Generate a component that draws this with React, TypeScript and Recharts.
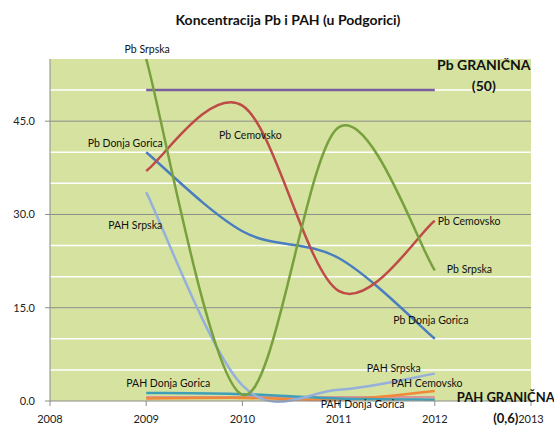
import React from "react";
import {
  LineChart,
  Line,
  XAxis,
  YAxis,
  CartesianGrid,
  ReferenceLine,
} from "recharts";

const years = [2009, 2010, 2011, 2012];
const pbSrpska = [55, 1, 44, 21];
const pbCemovsko = [37, 47.5, 17.7, 29];
const pbDonjaGorica = [40, 27.3, 23, 10];
const pahSrpska = [33.6, 2.5, 1.8, 4.4];
const pahDonjaGorica = [1.3, 1.1, 0.4, 0.2];
const pahCemovsko = [0.4, 0.5, 0.2, 1.6];
const pbGranicna = [50, 50, 50, 50];
const pahGranicna = [0.6, 0.6, 0.6, 0.6];

const xTicks = [2008, 2009, 2010, 2011, 2012, 2013];
const yTicks = [0, 15, 30, 45];
const minorGrid = [5, 10, 20, 25, 35, 40, 50];

const data = years.map((year, i) => ({
  year,
  pbSrpska: pbSrpska[i],
  pbCemovsko: pbCemovsko[i],
  pbDonjaGorica: pbDonjaGorica[i],
  pahSrpska: pahSrpska[i],
  pahDonjaGorica: pahDonjaGorica[i],
  pahCemovsko: pahCemovsko[i],
  pbGranicna: pbGranicna[i],
  pahGranicna: pahGranicna[i],
}));

// Excel-style smoothed line (Catmull-Rom through the points)
const excelSmooth = (context: any) => {
  let pts: number[][] = [];
  return {
    areaStart() {},
    areaEnd() {},
    lineStart() {
      pts = [];
    },
    point(x: number, y: number) {
      pts.push([+x, +y]);
    },
    lineEnd() {
      const n = pts.length;
      if (!n) return;
      context.moveTo(pts[0][0], pts[0][1]);
      for (let i = 0; i < n - 1; i++) {
        const p0 = pts[Math.max(i - 1, 0)];
        const p1 = pts[i];
        const p2 = pts[i + 1];
        const p3 = pts[Math.min(i + 2, n - 1)];
        context.bezierCurveTo(
          p1[0] + (p2[0] - p0[0]) / 6,
          p1[1] + (p2[1] - p0[1]) / 6,
          p2[0] - (p3[0] - p1[0]) / 6,
          p2[1] - (p3[1] - p1[1]) / 6,
          p2[0],
          p2[1]
        );
      }
    },
  };
};

type LabelSpec = {
  index: number;
  lines: string[];
  dx: number;
  dy: number;
  anchor?: "start" | "middle" | "end";
  size?: number;
};

const labels: Record<string, LabelSpec[]> = {
  pbSrpska: [
    { index: 0, lines: ["Pb Srpska"], dx: 1, dy: -6 },
    { index: 3, lines: ["Pb Srpska"], dx: 12, dy: 3, anchor: "start" },
  ],
  pbCemovsko: [
    { index: 1, lines: ["Pb Cemovsko"], dx: 8, dy: 33 },
    { index: 3, lines: ["Pb Cemovsko"], dx: 3, dy: 4, anchor: "start" },
  ],
  pbDonjaGorica: [
    { index: 0, lines: ["Pb Donja Gorica"], dx: -21, dy: -5 },
    { index: 3, lines: ["Pb Donja Gorica"], dx: -4, dy: -15 },
  ],
  pahSrpska: [
    { index: 0, lines: ["PAH Srpska"], dx: -11, dy: 37 },
    { index: 3, lines: ["PAH Srpska"], dx: -41, dy: -2 },
  ],
  pahCemovsko: [{ index: 3, lines: ["PAH Cemovsko"], dx: -8, dy: -4 }],
  pahDonjaGorica: [
    { index: 0, lines: ["PAH Donja Gorica"], dx: 22, dy: -6 },
    { index: 2, lines: ["PAH Donja Gorica"], dx: 24, dy: 9 },
  ],
  pbGranicna: [
    { index: 3, lines: ["Pb GRANIČNA", "(50)"], dx: 49, dy: -20, size: 14 },
  ],
  pahGranicna: [
    { index: 3, lines: ["PAH GRANIČNA", "(0,6)"], dx: 71, dy: 5, size: 13 },
  ],
};

const font = "Lato, 'Open Sans', sans-serif";

const makeLabel = (key: string) => (props: any) => {
  const spec = (labels[key] || []).find((s) => s.index === props.index);
  if (!spec) return <g key={`${key}-${props.index}`} />;
  return (
    <g key={`${key}-${props.index}`}>
      {spec.lines.map((line, i) => (
        <text
          key={i}
          x={props.x + spec.dx}
          y={props.y + spec.dy + i * 21}
          textAnchor={spec.anchor || "middle"}
          fontFamily={font}
          fontSize={spec.size || 10.5}
          fontWeight={spec.size ? 700 : 400}
          fill="#111"
        >
          {line}
        </text>
      ))}
    </g>
  );
};

const series = [
  { key: "pbGranicna", color: "#7A5FA0" },
  { key: "pahGranicna", color: "#D99694" },
  { key: "pahCemovsko", color: "#F0883A" },
  { key: "pahDonjaGorica", color: "#3F9FB8" },
  { key: "pahSrpska", color: "#95B0DA" },
  { key: "pbDonjaGorica", color: "#4A7DBF" },
  { key: "pbCemovsko", color: "#BE4B48" },
  { key: "pbSrpska", color: "#78A03E" },
];

export default function App() {
  return (
    <div
      style={{
        position: "absolute",
        left: 0,
        top: 0,
        width: 554,
        height: 427,
        background: "#fff",
        fontFamily: font,
      }}
    >
      <div
        style={{
          position: "absolute",
          left: 0,
          top: 11,
          width: 576,
          textAlign: "center",
          fontSize: 14,
          fontWeight: 700,
          color: "#111",
        }}
      >
        Koncentracija Pb i PAH (u Podgorici)
      </div>
      <LineChart
        width={554}
        height={427}
        data={data}
        margin={{ top: 59, right: 23, bottom: 0, left: 0 }}
      >
        <CartesianGrid
          fill="#D6E3A0"
          horizontal={false}
          vertical={false}
          stroke="none"
        />
        {minorGrid.map((v) => (
          <ReferenceLine key={v} y={v} stroke="#FFFFFF" strokeWidth={1.5} />
        ))}
        {yTicks
          .filter((v) => v > 0)
          .map((v) => (
            <ReferenceLine key={v} y={v} stroke="#8C8C8C" strokeWidth={1} />
          ))}
        <XAxis
          dataKey="year"
          type="number"
          domain={[2008, 2013]}
          ticks={xTicks}
          height={26}
          tickSize={5}
          tickMargin={9}
          axisLine={{ stroke: "#8C8C8C" }}
          tickLine={{ stroke: "#8C8C8C" }}
          tick={{ fontSize: 11, fill: "#222", fontFamily: font }}
        />
        <YAxis
          type="number"
          domain={[0, 55]}
          ticks={yTicks}
          width={50}
          tickSize={5}
          tickMargin={10}
          tickFormatter={(v: number) => v.toFixed(1)}
          axisLine={{ stroke: "#8C8C8C" }}
          tickLine={{ stroke: "#8C8C8C" }}
          tick={{ fontSize: 11, fill: "#222", fontFamily: font }}
        />
        {series.map((s) => (
          <Line
            key={s.key}
            dataKey={s.key}
            type={excelSmooth as any}
            stroke={s.color}
            strokeWidth={2.5}
            dot={false}
            activeDot={false}
            label={makeLabel(s.key)}
            isAnimationActive={false}
          />
        ))}
      </LineChart>
    </div>
  );
}
